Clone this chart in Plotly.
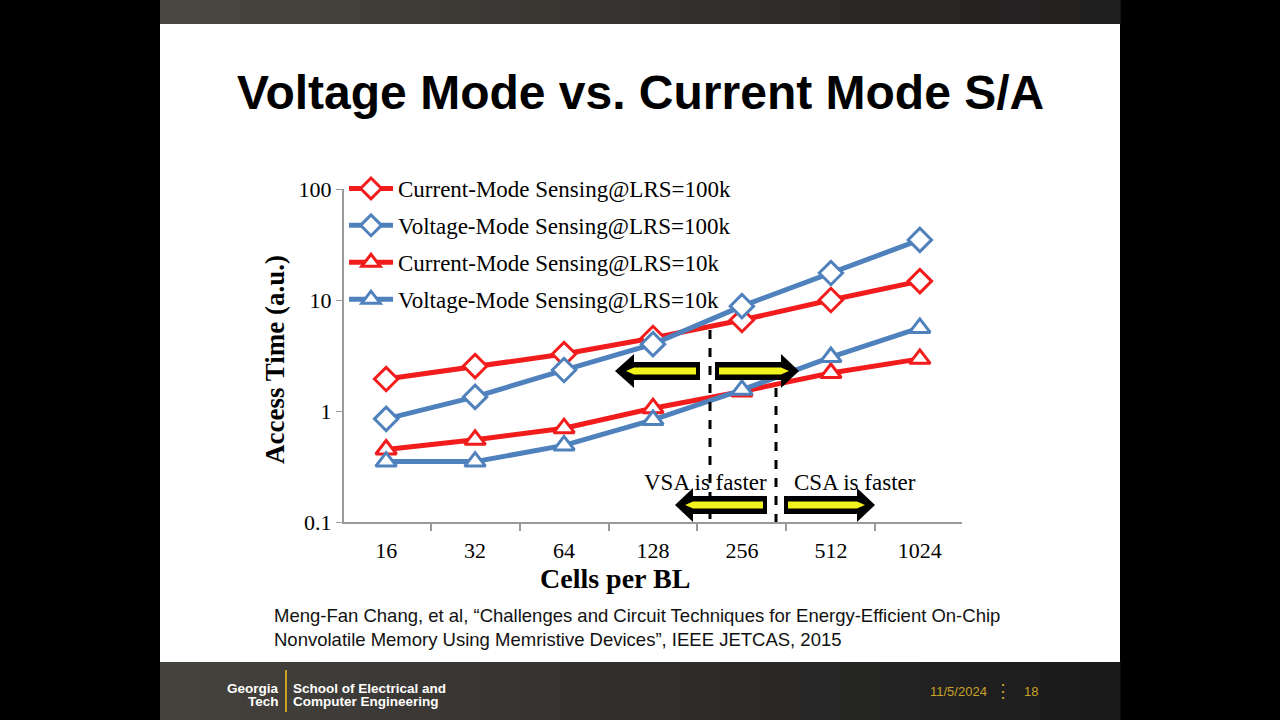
import plotly.graph_objects as go

W, H = 1280, 720

# ---------------- data ----------------
cells = ["16", "32", "64", "128", "256", "512", "1024"]
cm_100k = [1.94, 2.54, 3.26, 4.55, 6.6, 10.0, 14.8]
vm_100k = [0.85, 1.34, 2.34, 4.0, 8.8, 17.5, 34.8]
cm_10k = [0.45, 0.55, 0.70, 1.06, 1.5, 2.2, 2.95]
vm_10k = [0.35, 0.35, 0.49, 0.83, 1.55, 3.06, 5.6]
series_names = [
    "Current-Mode Sensing@LRS=100k",
    "Voltage-Mode Sensing@LRS=100k",
    "Current-Mode Sensing@LRS=10k",
    "Voltage-Mode Sensing@LRS=10k",
]
y_ticks = [0.1, 1, 10, 100]
y_tick_text = ["0.1", "1", "10", "100"]

RED = "#f21c1c"
BLUE = "#4f81bd"
SERIF = "Liberation Serif, Times New Roman, serif"
SANS = "Liberation Sans, Arial, sans-serif"


def PX(x):
    return x / W


def PY(y):
    return 1 - y / H


fig = go.Figure()
series = [(cm_100k, RED, "diamond"), (vm_100k, BLUE, "diamond"),
          (cm_10k, RED, "triangle-up"), (vm_10k, BLUE, "triangle-up")]
for i, (vals, col, sym) in enumerate(series):
    fig.add_trace(go.Scatter(
        x=cells, y=vals, mode="lines+markers", name=series_names[i],
        legendgroup=f"g{i}",
        line=dict(color=col, width=5),
        marker=dict(symbol=sym, size=18, color="white",
                    line=dict(color=col, width=3)),
    ))

shapes = []
# background: slide
shapes.append(dict(type="rect", xref="paper", yref="paper", x0=PX(160), x1=PX(1120),
                   y0=PY(720), y1=PY(0), fillcolor="white", line=dict(width=0), layer="below"))


def grad_bar(y0, y1, c_left, c_right, n=24):
    for k in range(n):
        t = k / (n - 1)
        c = tuple(int(round(c_left[j] + (c_right[j] - c_left[j]) * t)) for j in range(3))
        x0 = 160 + (960 / n) * k
        x1 = 160 + (960 / n) * (k + 1) + 0.6
        shapes.append(dict(type="rect", xref="paper", yref="paper", x0=PX(x0), x1=PX(x1),
                           y0=PY(y1), y1=PY(y0), fillcolor="rgb(%d,%d,%d)" % c,
                           line=dict(width=0), layer="below"))


grad_bar(0, 24, (74, 70, 64), (32, 31, 31))
grad_bar(662, 720, (70, 67, 62), (26, 26, 27))


def poly(points, fill):
    path = "M " + " L ".join("%f,%f" % (PX(x), PY(y)) for x, y in points) + " Z"
    shapes.append(dict(type="path", xref="paper", yref="paper", path=path,
                       fillcolor=fill, line=dict(width=0)))


def arrow(tip, hb, end, yc):
    hh, sh, ih = 17, 9, 3.5
    d = 1 if tip > end else -1
    poly([(tip, yc), (hb, yc - hh), (hb, yc - sh), (end, yc - sh), (end, yc + sh),
          (hb, yc + sh), (hb, yc + hh)], "black")
    ein = end + 4 * d
    poly([(ein, yc - ih), (hb, yc - ih), (hb + 8 * d, yc), (hb, yc + ih), (ein, yc + ih)],
         "#f2f21c")


arrow(615, 634, 700, 371)
arrow(799, 781, 715, 371)
arrow(675, 693, 767, 505)
arrow(875, 857, 784, 505)

# dashed lines
for (xx, ytop) in [(710, 330), (776, 388)]:
    shapes.append(dict(type="line", xref="paper", yref="paper", x0=PX(xx), x1=PX(xx),
                       y0=PY(ytop), y1=PY(522), line=dict(color="black", width=3, dash="dash")))

# gold separator in logo
shapes.append(dict(type="line", xref="paper", yref="paper", x0=PX(286), x1=PX(286),
                   y0=PY(670), y1=PY(712), line=dict(color="#c9a227", width=2)))

annotations = []


def txt(x, y, s, size, color="black", family=SANS, xanchor="center", bold=False, angle=0, align="left"):
    if bold:
        s = "<b>" + s + "</b>"
    annotations.append(dict(x=PX(x), y=PY(y), xref="paper", yref="paper", text=s,
                            showarrow=False, xanchor=xanchor, yanchor="middle",
                            font=dict(size=size, color=color, family=family),
                            textangle=angle, align=align))


txt(640, 92, "Voltage Mode vs. Current Mode S/A", 48, bold=True)
txt(275, 360, "Access Time (a.u.)", 27, family=SERIF, bold=True, angle=-90)
txt(615, 578, "Cells per BL", 28, family=SERIF, bold=True)
txt(705, 483, "VSA is faster", 23, family=SERIF)
txt(855, 483, "CSA is faster", 23, family=SERIF)
txt(272, 627, "Meng-Fan Chang, et al, “Challenges and Circuit Techniques for Energy-Efficient On-Chip<br>"
    "Nonvolatile Memory Using Memristive Devices”, IEEE JETCAS, 2015", 18.5, color="#111111",
    xanchor="left")
txt(281, 688, "Georgia", 13.5, color="white", xanchor="right", bold=True)
txt(281, 701, "Tech", 13.5, color="white", xanchor="right", bold=True)
txt(291, 688, "School of Electrical and", 13.5, color="white", xanchor="left", bold=True)
txt(291, 701, "Computer Engineering", 13.5, color="white", xanchor="left", bold=True)
txt(958, 691, "11/5/2024", 13, color="#c9a227")
txt(1003, 691, "⋮", 18, color="#c9a227")
txt(1031, 691, "18", 13, color="#c9a227")

fig.update_layout(
    width=W, height=H,
    margin=dict(l=0, r=0, t=0, b=0, autoexpand=False),
    paper_bgcolor="black",
    plot_bgcolor="rgba(0,0,0,0)",
    shapes=shapes,
    annotations=annotations,
    showlegend=True,
    legend=dict(x=PX(344), y=PY(167), xanchor="left", yanchor="top",
                bgcolor="rgba(0,0,0,0)", font=dict(family=SERIF, size=23, color="black"),
                tracegroupgap=4, itemwidth=44),
    xaxis=dict(domain=[PX(344), PX(962)], type="category", showline=True,
               linecolor="#9a9a9a", linewidth=2, ticks="outside", tickson="boundaries",
               ticklen=7, tickcolor="#9a9a9a", tickwidth=1.5, showgrid=False,
               tickfont=dict(family=SERIF, size=22, color="black"),
               ticklabelstandoff=8, anchor="y", automargin=False),
    yaxis=dict(domain=[PY(522), PY(189)], type="log", range=[-1, 2],
               tickvals=y_ticks, ticktext=y_tick_text, showline=True,
               linecolor="#9a9a9a", linewidth=2, ticks="outside", ticklen=6,
               tickcolor="#9a9a9a", showgrid=False, zeroline=False,
               tickfont=dict(family=SERIF, size=22, color="black"), anchor="x",
               automargin=False),
)

fig.write_html("out.html")
